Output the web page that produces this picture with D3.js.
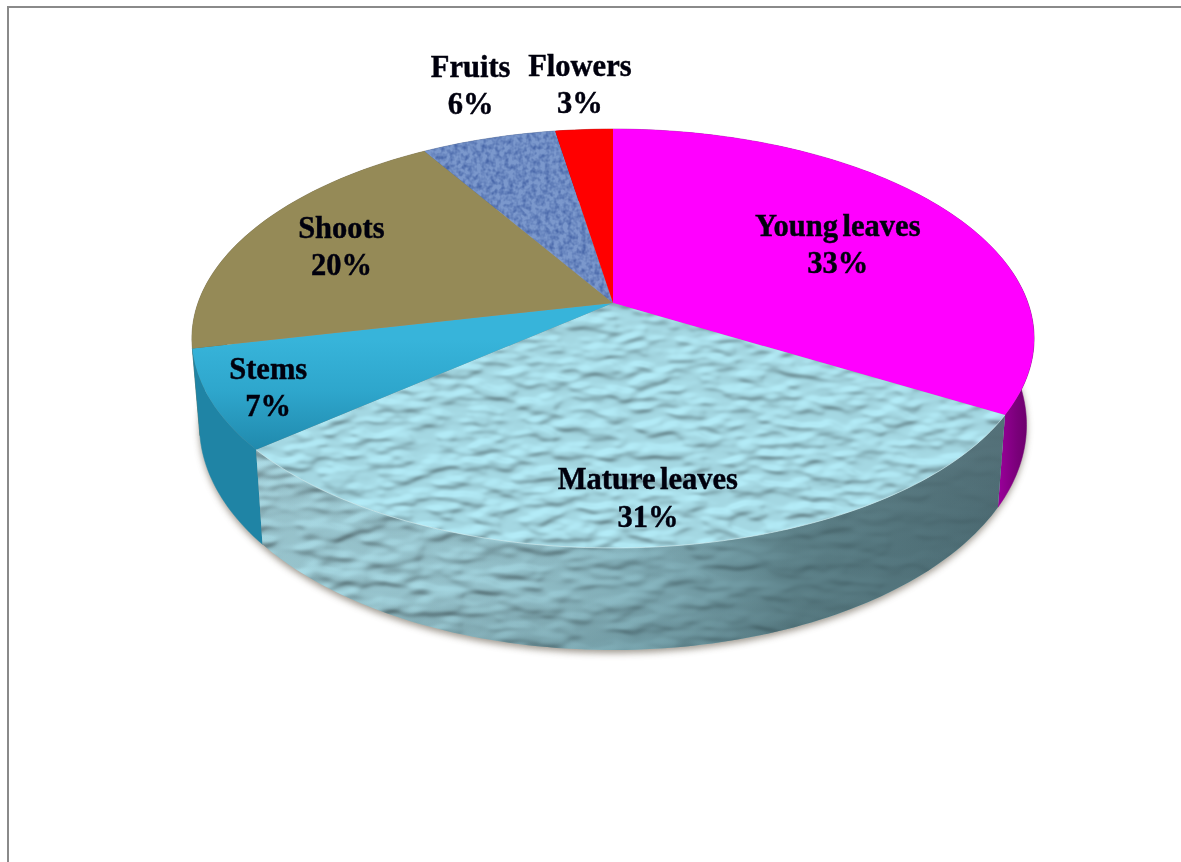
<!DOCTYPE html>
<html><head><meta charset="utf-8">
<script src="https://cdn.jsdelivr.net/npm/d3@7"></script>
<style>html,body{margin:0;padding:0;background:#fff;overflow:hidden}svg{display:block}</style></head>
<body><div id="chart"></div>
<script>
const categories = ["Young leaves","Mature leaves","Stems","Shoots","Fruits","Flowers"];
const printedPercents = ["33%","31%","7%","20%","6%","3%"];
const shares = [33.4,30.5,7.65,19.75,6.1,2.6];

// layout only
const W=1181,H=862;
const topColors=["#ff00ff","url(#mat)","url(#stemTop)","#958a57","url(#fru)","#ff0000"];
const wallColors=["url(#youngWall)","url(#mat)","#1f84a5","#6f6540","#4a6290","#b00000"];
const labelR=[.65,.85,.88,.75,1.2,1.3];
const nudge=[[3,5],[0,-5],[6,1],[1,2],[3,-24],[3,-1]];
const K=-0.1695,CX=613,AX=415,AY=303,BY=152.1;

const arcs=d3.pie().sort(null).value(d=>d)(shares);

function proj(angle,r){
  const u=r*Math.sin(angle),v=-r*Math.cos(angle),w=1+K*v;
  return [CX+AX*u/w,(AY+BY*v)/w];
}
function lower([x,y]){
  return [CX+(x-CX)*0.982,y+102-(548-y)*0.074];
}
const line=d3.line();
function arcPts(a0,a1,r=1){
  const n=Math.max(4,Math.ceil((a1-a0)/0.02));
  return d3.range(n+1).map(i=>proj(a0+(a1-a0)*i/n,r));
}
const facePath=d=>line([proj(0,0),...arcPts(d.startAngle,d.endAngle)])+"Z";
const wallPath=d=>{const t=arcPts(d.startAngle,d.endAngle);return line([...t,...t.slice().reverse().map(lower)])+"Z";};

const svg=d3.select("#chart").append("svg").attr("width",W).attr("height",H);
const defs=svg.append("defs");

function lin(id,stops,x1,y1,x2,y2){
  const g=defs.append("linearGradient").attr("id",id).attr("gradientUnits","userSpaceOnUse")
    .attr("x1",x1).attr("y1",y1).attr("x2",x2).attr("y2",y2);
  stops.forEach(([o,c,a])=>g.append("stop").attr("offset",o).attr("stop-color",c).attr("stop-opacity",a??1));
}
lin("stemTop",[[0,"#37b4da"],[.45,"#2ea6cc"],[1,"#1f87aa"]],0,340,0,455);
lin("youngWall",[[0,"#a000a0"],[.55,"#7a007a"],[1,"#640064"]],995,0,1035,0);
lin("matShade",[[0,"#b5dbe3",.1],[.25,"#8fbcc6",.12],[.5,"#5f8a94",.38],[.72,"#47686f",.75],[1,"#46646c",.95]],258,0,1003,0);
lin("matShadeV",[[0,"#ffffff",.05],[.7,"#000000",0],[1,"#2f5058",.2]],0,450,0,650);

const blur=defs.append("filter").attr("id","soft").attr("x","-5%").attr("y","-5%").attr("width","110%").attr("height","115%");
blur.append("feGaussianBlur").attr("stdDeviation",3.5);
const tb=defs.append("filter").attr("id","textSoft").attr("x","-5%").attr("y","-5%").attr("width","110%").attr("height","110%");
tb.append("feGaussianBlur").attr("stdDeviation",.4);

function waterFilter(id,freq,seed,light,elev,scale){
  const f=defs.append("filter").attr("id",id).attr("filterUnits","userSpaceOnUse")
    .attr("x",0).attr("y",0).attr("width",W).attr("height",H).attr("color-interpolation-filters","sRGB");
  f.append("feTurbulence").attr("type","fractalNoise").attr("baseFrequency",freq).attr("numOctaves",2).attr("seed",seed).attr("result","n");
  f.append("feColorMatrix").attr("in","n").attr("type","matrix")
    .attr("values","0 0 0 0 0  0 0 0 0 0  0 0 0 0 0  1 0 0 0 0").attr("result","h0");
  f.append("feComponentTransfer").attr("in","h0").attr("result","h")
    .append("feFuncA").attr("type","table").attr("tableValues","1 1 1 .9 .55 .12 0 0 0 0");
  f.append("feGaussianBlur").attr("in","h").attr("stdDeviation","1.5").attr("result","hb");
  const l=f.append("feDiffuseLighting").attr("in","hb").attr("surfaceScale",scale).attr("diffuseConstant",1.08).attr("lighting-color",light);
  l.append("feDistantLight").attr("azimuth",250).attr("elevation",elev);
}
waterFilter("waterTop","0.034 0.085",7,"#a6dae5",66,1.25);
waterFilter("waterWall","0.026 0.065",11,"#9ccbd5",62,1.6);

const fru=defs.append("filter").attr("id","denim").attr("filterUnits","userSpaceOnUse")
  .attr("x",0).attr("y",0).attr("width",W).attr("height",H).attr("color-interpolation-filters","sRGB");
fru.append("feTurbulence").attr("type","fractalNoise").attr("baseFrequency","0.22 0.2").attr("numOctaves",2).attr("seed",3).attr("result","n");
fru.append("feColorMatrix").attr("in","n").attr("type","matrix")
  .attr("values","0 0 0 0 .28  0 0 0 0 .40  0 0 0 0 .66  2 0 0 0 -.72").attr("result","d");
fru.append("feFlood").attr("flood-color","#7b98cc").attr("result","b");
fru.append("feMerge").call(m=>{m.append("feMergeNode").attr("in","b");m.append("feMergeNode").attr("in","d");});

arcs.forEach((d,i)=>{
  defs.append("clipPath").attr("id","face"+i).append("path").attr("d",facePath(d));
  defs.append("clipPath").attr("id","wall"+i).append("path").attr("d",wallPath(d));
});

// frame
const frame=svg.append("g").attr("fill","none").attr("stroke","#8a8a8a").attr("stroke-width",2);
frame.append("path").attr("d",line([[8,H],[8,7],[W,7]]));

// drop shadow under the disc
svg.append("path").attr("d",line(arcPts(0,2*Math.PI).map(lower).map(([x,y])=>[x,y+3]))+"Z")
  .attr("fill","#7d7468").attr("opacity",.75).attr("filter","url(#soft)");

// walls
const walls=svg.append("g");
const wallOrder=[5,4,3,0,2,1];
wallOrder.forEach(i=>{
  const d=arcs[i];
  if(i===1){
    const g=walls.append("g").attr("clip-path","url(#wall1)");
    g.append("rect").attr("width",W).attr("height",H).attr("filter","url(#waterWall)");
    g.append("rect").attr("width",W).attr("height",H).attr("fill","url(#matShade)");
    g.append("rect").attr("width",W).attr("height",H).attr("fill","url(#matShadeV)");
  } else {
    walls.append("path").attr("d",wallPath(d)).attr("fill",wallColors[i]).attr("stroke",wallColors[i]).attr("stroke-width",.5);
  }
});

// top faces
const faces=svg.append("g");
arcs.forEach((d,i)=>{
  if(i===1){
    const g=faces.append("g").attr("clip-path","url(#face1)");
    g.append("rect").attr("width",W).attr("height",H).attr("filter","url(#waterTop)");
  } else if(i===4){
    const g=faces.append("g").attr("clip-path","url(#face4)");
    g.append("rect").attr("width",W).attr("height",H).attr("filter","url(#denim)");
  } else {
    faces.append("path").attr("d",facePath(d)).attr("fill",topColors[i]);
  }
});
// light rim along the front of the textured slice
svg.append("path").attr("d",line(arcPts(arcs[1].startAngle,arcs[1].endAngle)))
  .attr("fill","none").attr("stroke","#d6f4f8").attr("stroke-width",1).attr("opacity",.6);

// labels
const labels=svg.append("g").attr("font-family","'Liberation Serif',serif").attr("font-weight",700)
  .attr("font-size",30.5).attr("fill","#05050f").attr("stroke","#05050f").attr("stroke-width",.45)
  .attr("text-anchor","middle").attr("filter","url(#textSoft)")
  .style("word-spacing","-3px");
arcs.forEach((d,i)=>{
  const [x,y]=proj((d.startAngle+d.endAngle)/2,labelR[i]);
  const lx=x+nudge[i][0],ly=y+nudge[i][1];
  const t=labels.append("text").attr("x",lx).attr("y",ly-10);
  t.append("tspan").attr("x",lx).text(categories[i]);
  t.append("tspan").attr("x",lx).attr("dy",37.5).text(printedPercents[i]);
});
</script></body></html>
